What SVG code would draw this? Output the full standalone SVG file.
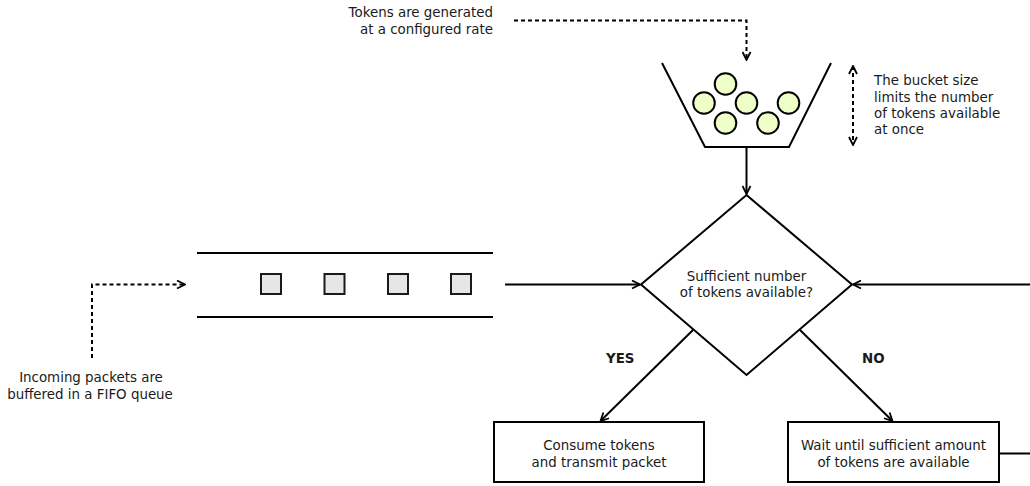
<svg xmlns="http://www.w3.org/2000/svg" width="1030" height="486" viewBox="0 0 1030 486">
  <defs>
    <style>
      text { font-family: "DejaVu Sans", "Liberation Sans", sans-serif; font-size: 13.4px; fill: #1a1a1a; }
      .c { text-anchor: middle; }
      .r { text-anchor: end; }
      .b { font-weight: bold; }
      .ln { stroke: #000; stroke-width: 2; fill: none; }
      .dash { stroke: #000; stroke-width: 2; fill: none; stroke-dasharray: 4 3; }
      .shape { stroke: #000; stroke-width: 2; fill: #fff; }
      .pkt { stroke: #1a1a1a; stroke-width: 2; fill: #e6e6e6; }
      .tok { stroke: #000; stroke-width: 2; fill: #efffc8; }
    </style>
    <marker id="vee" viewBox="0 0 10 10" refX="9" refY="5" markerWidth="10" markerHeight="10" markerUnits="userSpaceOnUse" orient="auto-start-reverse">
      <path d="M1,1 L9,5 L1,9" fill="none" stroke="#000" stroke-width="1.8"/>
    </marker>
  </defs>
  <rect width="1030" height="486" fill="#fff"/>

  <!-- token bucket -->
  <g id="bucket">
    <path class="ln" d="M662,63 L705,147 L789,147 L831,63"/>
    <circle class="tok" cx="725.5" cy="84" r="10.8"/>
    <circle class="tok" cx="704" cy="103" r="10.8"/>
    <circle class="tok" cx="746.5" cy="103" r="10.8"/>
    <circle class="tok" cx="788.5" cy="103" r="10.8"/>
    <circle class="tok" cx="725.5" cy="123" r="10.8"/>
    <circle class="tok" cx="768" cy="123" r="10.8"/>
  </g>

  <!-- packet queue -->
  <g id="queue">
    <line class="ln" x1="197" y1="253" x2="493" y2="253"/>
    <line class="ln" x1="197" y1="317" x2="493" y2="317"/>
    <rect class="pkt" x="261" y="274" width="20" height="20"/>
    <rect class="pkt" x="324.5" y="274" width="20" height="20"/>
    <rect class="pkt" x="388" y="274" width="20" height="20"/>
    <rect class="pkt" x="451" y="274" width="20" height="20"/>
  </g>

  <!-- decision -->
  <g id="decision">
    <path class="shape" d="M746.5,195 L852,284.5 L746.5,375 L641,284.5 Z"/>
    <text class="c" x="746.5" y="281">Sufficient number</text>
    <text class="c" x="746.5" y="297">of tokens available?</text>
  </g>

  <g id="consume">
    <rect class="shape" x="494" y="422" width="210" height="60"/>
    <text class="c" x="599" y="450">Consume tokens</text>
    <text class="c" x="599" y="467">and transmit packet</text>
  </g>

  <g id="wait">
    <rect class="shape" x="788" y="422" width="211" height="60"/>
    <text class="c" x="893.5" y="450">Wait until sufficient amount</text>
    <text class="c" x="893.5" y="467">of tokens are available</text>
  </g>

  <!-- annotations -->
  <g id="note-rate">
    <text class="r" x="493" y="17">Tokens are generated</text>
    <text class="r" x="493" y="34">at a configured rate</text>
  </g>
  <g id="note-size">
    <text x="874" y="85">The bucket size</text>
    <text x="874" y="101.5">limits the number</text>
    <text x="874" y="118">of tokens available</text>
    <text x="874" y="134">at once</text>
  </g>
  <g id="note-queue">
    <text class="c" x="91" y="382">Incoming packets are</text>
    <text class="c" x="90" y="399">buffered in a FIFO queue</text>
  </g>

  <g id="connectors">
    <polyline class="dash" points="514,20.5 746.5,20.5 746.5,60" marker-end="url(#vee)"/>
    <line class="dash" x1="853" y1="66" x2="853" y2="145" marker-start="url(#vee)" marker-end="url(#vee)"/>
    <polyline class="dash" points="92,358 92,284.5 185,284.5" marker-end="url(#vee)"/>
    <line class="ln" x1="746.5" y1="147" x2="746.5" y2="194" marker-end="url(#vee)"/>
    <line class="ln" x1="505" y1="284.5" x2="640" y2="284.5" marker-end="url(#vee)"/>
    <line class="ln" x1="1030" y1="284.5" x2="853" y2="284.5" marker-end="url(#vee)"/>
    <line class="ln" x1="693" y1="330" x2="600.5" y2="421" marker-end="url(#vee)"/>
    <line class="ln" x1="800" y1="330" x2="892.5" y2="421" marker-end="url(#vee)"/>
    <line class="ln" x1="999" y1="453.5" x2="1030" y2="453.5"/>
    <text class="b" x="606" y="363">YES</text>
    <text class="b" x="862" y="363">NO</text>
  </g>
</svg>
